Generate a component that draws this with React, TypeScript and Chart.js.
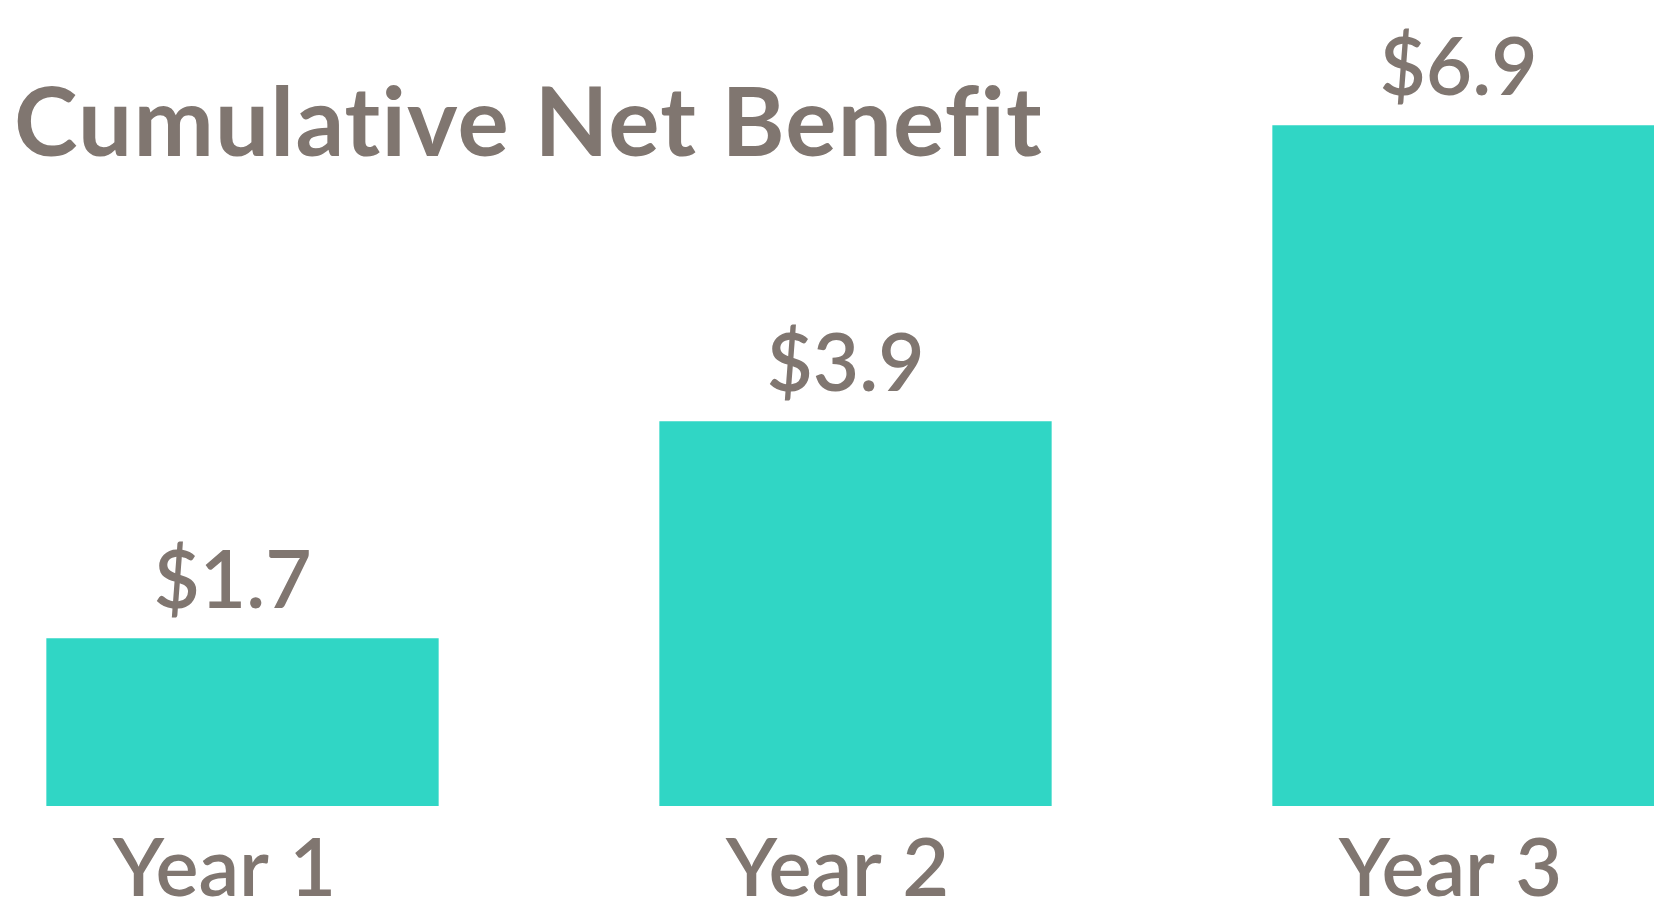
import React, { useEffect, useRef } from "react";
import { Chart, registerables } from "chart.js";

Chart.register(...registerables);

const categories = ["Year 1", "Year 2", "Year 3"];
const netBenefit = [1.7, 3.9, 6.9];
const valuePrefix = "$";
const chartTitle = "Cumulative Net Benefit";

const BAR_COLOR = "#30D6C5";
const TEXT_COLOR = "#807670";
const FONT = "Lato, 'Noto Sans', sans-serif";

const overlayPlugin = {
  id: "overlay",
  afterDatasetsDraw(chart: any) {
    const ctx = chart.ctx;
    ctx.save();
    ctx.fillStyle = TEXT_COLOR;
    // value labels
    ctx.font = `600 80px ${FONT}`;
    ctx.textAlign = "center";
    ctx.textBaseline = "alphabetic";
    const meta = chart.getDatasetMeta(0);
    meta.data.forEach((bar: any, i: number) => {
      const v = chart.data.datasets[0].data[i] as number;
      ctx.fillText(`${valuePrefix}${v.toFixed(1)}`, bar.x - 10, bar.y - 30);
    });
    // title
    ctx.font = `700 96px ${FONT}`;
    (ctx as any).letterSpacing = "1.2px";
    ctx.textAlign = "left";
    ctx.fillText(chartTitle, 78, 156);
    ctx.restore();
  },
};

export default function App() {
  const ref = useRef<HTMLCanvasElement | null>(null);
  useEffect(() => {
    if (!ref.current) return;
    const chart = new Chart(ref.current, {
      type: "bar",
      data: {
        labels: categories,
        datasets: [
          {
            data: netBenefit,
            backgroundColor: BAR_COLOR,
            borderWidth: 0,
            categoryPercentage: 1,
            barPercentage: 0.64,
          },
        ],
      },
      options: {
        animation: false,
        responsive: true,
        maintainAspectRatio: false,
        layout: { padding: 0 },
        plugins: {
          legend: { display: false },
          title: { display: false },
          tooltip: { enabled: false },
        },
        scales: {
          x: {
            grid: { display: false },
            border: { display: false },
            ticks: {
              color: TEXT_COLOR,
              font: { family: FONT, size: 81, weight: 600, lineHeight: 1 },
              padding: 15,
              labelOffset: -18,
              maxRotation: 0,
            },
            afterFit: (scale: any) => {
              scale.height = 94;
            },
          },
          y: {
            display: false,
            min: 0,
            max: 8.17,
          },
        },
      },
      plugins: [overlayPlugin],
    });
    return () => chart.destroy();
  }, []);
  return (
    <div
      style={{
        position: "fixed",
        left: 0,
        top: 0,
        width: 1654,
        height: 900,
        overflow: "hidden",
        background: "#fff",
      }}
    >
      <div style={{ position: "absolute", left: -64, top: 0, width: 1839, height: 900 }}>
        <canvas ref={ref} />
      </div>
    </div>
  );
}
